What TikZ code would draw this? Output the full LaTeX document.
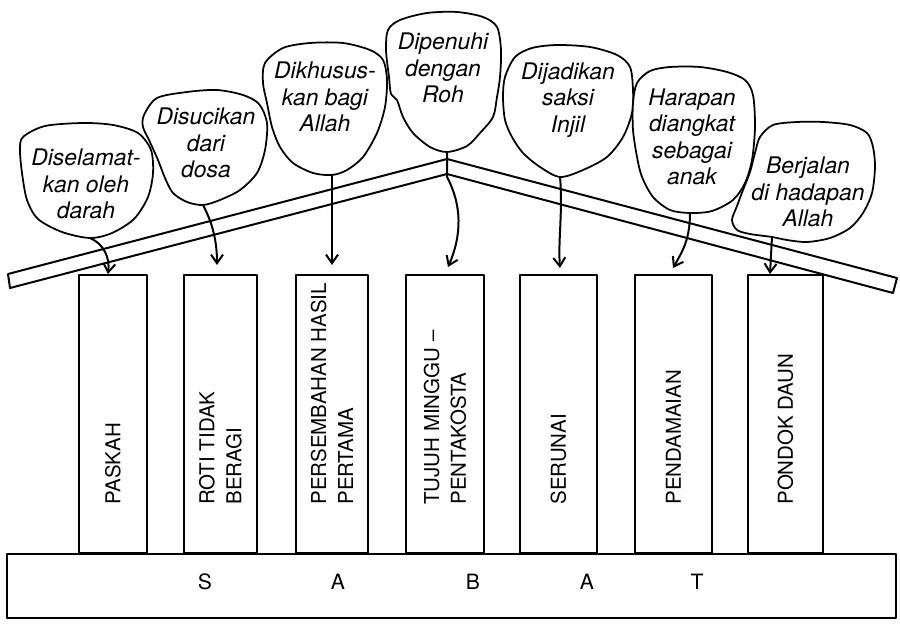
\documentclass[tikz,border=0pt]{standalone}
\usepackage{fontspec}
\usepackage{tikz}
\usetikzlibrary{arrows.meta}
\newfontfamily\heros{TeX Gyre Heros}
\newcommand{\thoughtfont}{\heros\itshape\fontsize{19.5}{22.5}\selectfont}
\newcommand{\pillarfont}{\heros\fontsize{17.5}{23}\selectfont}
\newcommand{\basefont}{\heros\fontsize{18}{21}\selectfont}

\begin{document}
\begin{tikzpicture}[x=0.03cm, y=-0.03cm, line width=1.7pt, line join=round,
    pillar/.style={draw, anchor=south west, minimum height=8.34cm, inner sep=0pt},
    plabel/.style={font=\pillarfont, rotate=90, anchor=west, align=left, inner sep=0pt},
    thought/.style={font=\thoughtfont, align=center, inner sep=0pt},
    bubble/.style={draw, fill=white, line width=1.5pt},
    pointer/.style={-{Straight Barb[length=2.6mm, width=3.6mm]}},
    letter/.style={font=\basefont, inner sep=0pt}]
    \useasboundingbox (0,0) rectangle (900,624);

    % Foundation
    \draw (7,554) rectangle (896,618);
    \foreach \n/\px/\t in {1/205/S, 2/338/A, 3/473/B, 4/587/A, 5/697/T}
        \node[letter] (s\n) at (\px,582) {\t};

    % Pillars
    \foreach \n/\l/\r in {1/78/146, 2/183/256, 3/295/367, 4/405/483, 5/519/596, 6/634/711, 7/747/822}
        \node[pillar, minimum width={(\r-\l)*0.03cm}] (p\n) at (\l,554) {};
    \foreach \n/\txt in {1/{PASKAH}, 2/{ROTI TIDAK\\BERAGI}, 3/{PERSEMBAHAN HASIL\\PERTAMA},
                         4/{TUJUH MINGGU –\\PENTAKOSTA}, 5/{SERUNAI}, 6/{PENDAMAIAN}, 7/{PONDOK DAUN}}
        \node[plabel] (l\n) at ([yshift=1.45cm]p\n.south) {\txt};

    % Roof
    \draw (8,274) -- (447,159) -- (897,278) -- (893,293) -- (447,174) -- (10,288) -- cycle;

    % Bubbles
    \draw[bubble] plot[smooth cycle] coordinates {(23,137) (45,126) (83,123) (113,125) (138,133)
        (151,150) (153,173) (148,197) (134,219) (112,233) (90,238) (62,232) (38,219) (27,200) (22,173) (20,150)};
    \draw[bubble] plot[smooth cycle] coordinates {(144,115) (157,98) (187,92) (217,90) (243,95)
        (259,104) (267,123) (265,150) (257,173) (240,190) (220,200) (203,205) (187,202) (173,193)
        (165,178) (158,160) (149,140) (143,127)};
    \draw[bubble] plot[smooth cycle] coordinates {(265,63) (283,48) (310,43) (343,43) (370,50)
        (383,60) (387,80) (385,107) (377,133) (363,157) (347,170) (332,175) (313,173) (293,163)
        (280,147) (272,127) (267,103) (263,83)};
    \draw[bubble] plot[smooth cycle] coordinates {(388,30) (400,20) (427,13) (457,12) (483,17)
        (497,27) (501,50) (500,77) (497,97) (493,117) (480,133) (467,146) (447,152) (430,147)
        (413,133) (403,117) (397,100) (391,94) (389,77) (386,50)};
    \draw[bubble] plot[smooth cycle] coordinates {(505,77) (515,57) (532,48) (557,45) (590,47)
        (617,55) (630,67) (633,90) (632,113) (623,137) (607,157) (583,170) (560,177) (540,167)
        (523,153) (512,137) (505,120) (503,97)};
    \draw[bubble] plot[smooth cycle] coordinates {(637,83) (650,71) (670,67) (700,67) (727,72)
        (745,80) (753,95) (755,127) (752,160) (745,183) (733,200) (712,211) (690,213) (670,210)
        (653,197) (642,177) (637,157) (633,130) (633,103)};
    \draw[bubble] plot[smooth cycle] coordinates {(760,137) (773,125) (797,122) (823,122) (850,125)
        (867,133) (873,147) (875,167) (872,193) (863,213) (850,228) (830,238) (807,242) (787,240)
        (772,237) (750,234) (737,230) (732,220) (737,206) (743,190) (750,172) (755,153)};

    % Bubble texts
    \node[thought] (t1) at (86,184) {Diselamat-\\kan oleh\\darah};
    \node[thought] (t2) at (206,143) {Disucikan\\dari\\dosa};
    \node[thought] (t3) at (325,97) {Dikhusus-\\kan bagi\\Allah};
    \node[thought] (t4) at (443,68) {Dipenuhi\\dengan\\Roh};
    \node[thought] (t5) at (568,100) {Dijadikan\\saksi\\Injil};
    \node[thought] (t6) at (692,137) {Harapan\\diangkat\\sebagai\\anak};
    \node[thought] (t7) at (808,192) {Berjalan\\di hadapan\\Allah};

    % Tails
    \coordinate (b1) at (90,238);  \coordinate (e1) at (108,274);
    \coordinate (b2) at (203,205); \coordinate (e2) at (217,265);
    \coordinate (b3) at (332,175); \coordinate (e3) at (332,265);
    \coordinate (b4) at (447,152); \coordinate (e4) at (448,267);
    \coordinate (b5) at (560,177); \coordinate (e5) at (560,268);
    \coordinate (b6) at (690,213); \coordinate (e6) at (673,268);
    \coordinate (b7) at (772,237); \coordinate (e7) at (770,274);
    \draw[pointer] (b1) .. controls (104,244) and (110,258) .. (e1);
    \draw[pointer] (b2) .. controls (212,222) and (217,240) .. (e2);
    \draw[pointer] (b3) -- (e3);
    \draw[pointer] (b4) -- (447,177) .. controls (462,205) and (462,235) .. (e4);
    \draw[pointer] (b5) .. controls (563,210) and (558,240) .. (e5);
    \draw[pointer] (b6) .. controls (690,240) and (682,252) .. (e6);
    \draw[pointer] (b7) -- (e7);
\end{tikzpicture}
\end{document}
